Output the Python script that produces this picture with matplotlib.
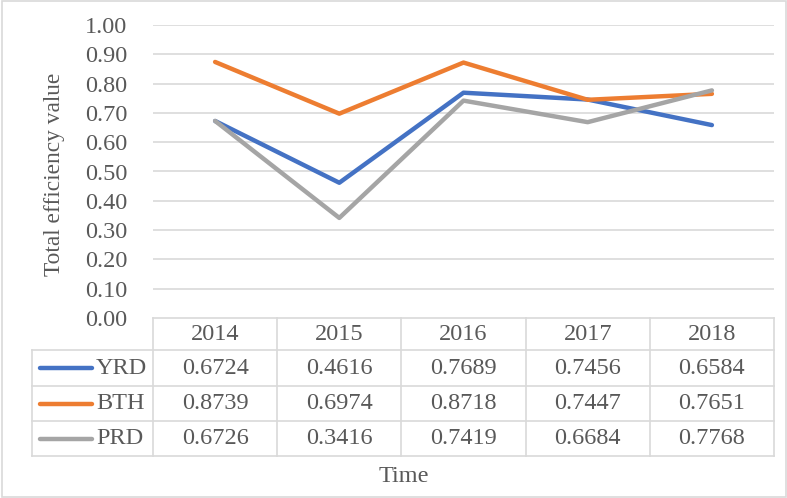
import matplotlib.pyplot as plt
from matplotlib.lines import Line2D
from matplotlib.patches import Rectangle

years = ['2014', '2015', '2016', '2017', '2018']
series_names = ['YRD', 'BTH', 'PRD']
yrd = [0.6724, 0.4616, 0.7689, 0.7456, 0.6584]
bth = [0.8739, 0.6974, 0.8718, 0.7447, 0.7651]
prd = [0.6726, 0.3416, 0.7419, 0.6684, 0.7768]
colors = ['#4472C4', '#ED7D31', '#A5A5A5']

W, H = 787, 498
text_color = '#595959'
grid_color = '#D9D9D9'
plt.rcParams['font.family'] = ['Liberation Serif', 'DejaVu Serif']
fs = 17.5


def fx(px):
    return px / W


def fy(py):
    return 1 - py / H


fig = plt.figure(figsize=(W / 100, H / 100), dpi=100)

# plot area
left, right, top, bottom = 153, 774, 25, 318
ax = fig.add_axes([fx(left), fy(bottom), fx(right - left), (bottom - top) / H])
xs = list(range(len(years)))
for vals, name, c in zip([yrd, bth, prd], series_names, colors):
    ax.plot(xs, vals, color=c, linewidth=3.2, solid_capstyle='round', label=name)
ax.set_xlim(-0.5, len(years) - 0.5)
ax.set_ylim(0, 1.0)
ax.set_yticks([i / 10 for i in range(11)])
ax.set_yticklabels([f'{i / 10:.2f}' for i in range(11)])
ax.tick_params(axis='y', length=0, pad=18.5, labelsize=fs, labelcolor=text_color)
ax.set_xticks([])
for s in ax.spines.values():
    s.set_visible(False)
for i in range(1, 11):
    ax.axhline(i / 10, color=grid_color, linewidth=1.2, zorder=0)
ax.set_ylabel('Total efficiency value', fontsize=16.8, color=text_color)
ax.yaxis.set_label_coords((65 - left) / (right - left), (bottom - 174) / (bottom - top))

# data table below the axis
col_w = (right - left) / len(years)
row_edges = [318, 350, 386, 421, 456]
legend_left = 32
lw = 1.2


def hline(py, x0, x1):
    fig.add_artist(Line2D([fx(x0), fx(x1)], [fy(py), fy(py)], color=grid_color, linewidth=lw))


def vline(px, y0, y1):
    fig.add_artist(Line2D([fx(px), fx(px)], [fy(y0), fy(y1)], color=grid_color, linewidth=lw))


hline(row_edges[0], left, right)
for py in row_edges[1:]:
    hline(py, legend_left, right)
for j in range(len(years) + 1):
    vline(left + j * col_w, row_edges[0], row_edges[-1])
vline(legend_left, row_edges[1], row_edges[-1])

for j, yr in enumerate(years):
    cx = left + (j + 0.5) * col_w
    cy = (row_edges[0] + row_edges[1]) / 2
    fig.text(fx(cx), fy(cy), yr, ha='center', va='center', fontsize=fs, color=text_color)

for i, (vals, name, c) in enumerate(zip([yrd, bth, prd], series_names, colors)):
    cy = (row_edges[i + 1] + row_edges[i + 2]) / 2
    fig.add_artist(Line2D([fx(40), fx(92)], [fy(cy), fy(cy)], color=c, linewidth=3.2,
                          solid_capstyle='round'))
    fig.text(fx(96), fy(cy), name, ha='left', va='center', fontsize=fs, color=text_color)
    for j, v in enumerate(vals):
        cx = left + (j + 0.5) * col_w
        fig.text(fx(cx), fy(cy), f'{v:.4f}', ha='center', va='center', fontsize=fs,
                 color=text_color)

fig.text(fx(404), fy(476), 'Time', ha='center', va='center', fontsize=fs, color=text_color)

# chart border
fig.add_artist(Rectangle((fx(1.5), fy(496.5)), fx(784), (495) / H, fill=False,
                         edgecolor=grid_color, linewidth=1.2, transform=fig.transFigure))

fig.savefig('out.png', dpi=100)
